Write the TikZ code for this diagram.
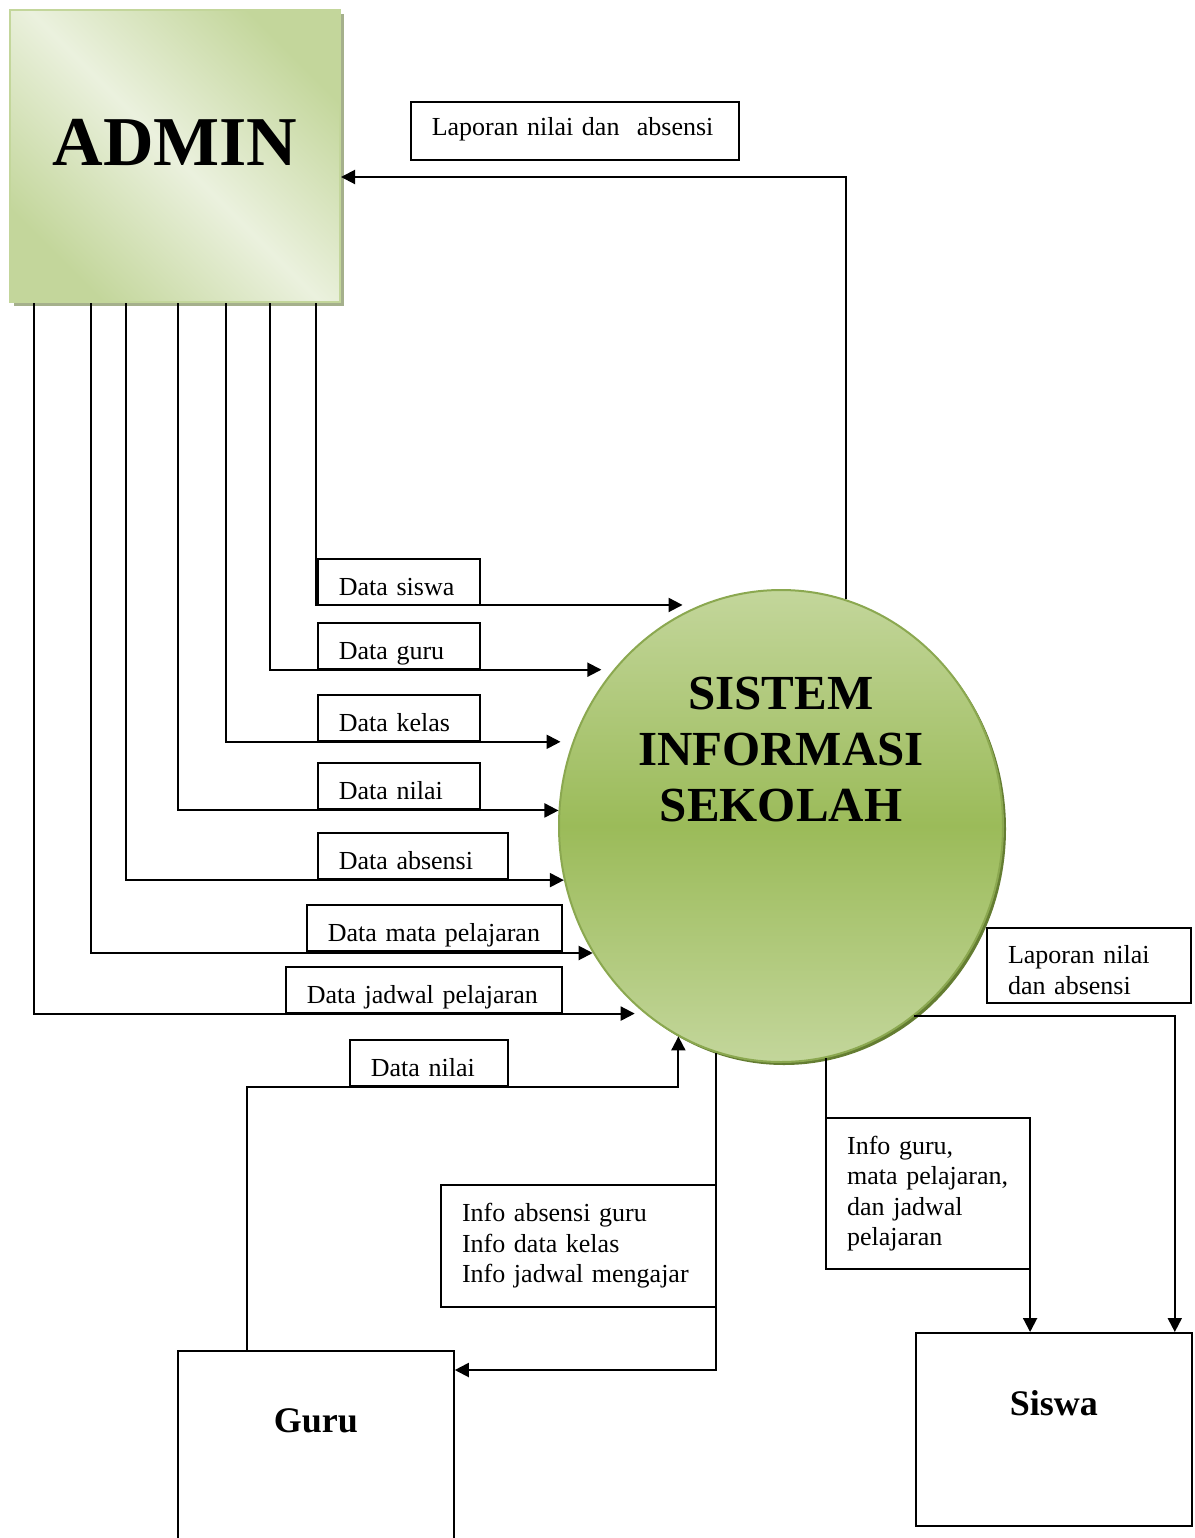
\documentclass[tikz,border=0pt]{standalone}
\usepackage{fontspec}
\setmainfont{Liberation Serif}
\usepackage{tikz}
\usetikzlibrary{arrows.meta,shapes.geometric,shadows}
\definecolor{olv}{RGB}{155,187,89}
\definecolor{olvlite}{RGB}{195,214,155}
\definecolor{olvpale}{RGB}{235,241,222}
\definecolor{olvdark}{RGB}{100,125,50}
\definecolor{shadowgr}{RGB}{165,176,140}

\begin{document}
\begin{tikzpicture}[x=0.5pt,y=-0.5pt,font=\fontsize{13}{15.25}\selectfont,
  adm/.style={draw=olvlite,line width=1pt,inner sep=0pt,minimum width=165pt,minimum height=146pt,
    top color=olvlite,bottom color=olvlite,middle color=olvpale,shading angle=-45,
    drop shadow={shadow xshift=2pt,shadow yshift=-2pt,fill=shadowgr,opacity=1},
    font=\fontsize{35}{40}\selectfont\bfseries},
  proc/.style={ellipse,draw=olv!90!black,line width=1pt,minimum width=222pt,minimum height=236pt,inner sep=0pt,
    top color=olvlite,bottom color=olvlite,middle color=olv,
    drop shadow={shadow xshift=1.5pt,shadow yshift=-1.5pt,fill=olvdark,opacity=1}},
  ent/.style={draw=black,line width=0.9pt,fill=white,inner sep=0pt,minimum width=138pt,anchor=north west,
    font=\fontsize{18}{20}\selectfont\bfseries},
  lbl/.style={draw=black,line width=0.8pt,fill=white,anchor=south west,inner xsep=10.5pt,inner ysep=0pt,
    text width=#1,align=left,text height=18pt,text depth=5pt},
  mbox/.style={draw=black,line width=0.8pt,fill=white,inner xsep=10.5pt,inner ysep=0pt,outer sep=0pt,
    text width=#1,align=left},
  a/.style={-{Triangle[length=7pt,width=7pt]},line width=1pt}]
  \path[use as bounding box,fill=white] (0,0) rectangle (1195,1538);
  % entities and process
  \node[adm,text height=77.5pt,text depth=68.5pt] (admin) at (175,156) {ADMIN};
  \node[proc] (sis) at (781,826) {};
  \node[font=\fontsize{24.5}{28}\selectfont\bfseries,align=center] (sistxt) at (781,750) {SISTEM\\INFORMASI\\SEKOLAH};
  \node[ent,text height=41pt,text depth=64pt] (guru) at (177,1350) {Guru};
  \node[ent,text height=41.5pt,text depth=55pt] (siswa) at (915,1332) {Siswa};
  % flow labels
  \node[lbl=143pt,text height=17pt,text depth=12pt,anchor=north west] (lapadm) at (410,101) {Laporan nilai dan~ absensi};
  \node[lbl=60pt] (dsiswa) at (317,606) {Data siswa};
  \node[lbl=60pt] (dguru) at (317,670) {Data guru};
  \node[lbl=60pt] (dkelas) at (317,742) {Data kelas};
  \node[lbl=60pt] (dnilai) at (317,810) {Data nilai};
  \node[lbl=74pt] (dabsen) at (317,880) {Data absensi};
  \node[lbl=106.5pt] (dmapel) at (306,952) {Data mata pelajaran};
  \node[lbl=117pt] (djadwal) at (285,1014) {Data jadwal pelajaran};
  \node[lbl=58pt] (gnilai) at (349,1087) {Data nilai};
  \node[mbox=116.5pt,anchor=north east,minimum height=61pt] (infoguru) at (sis.254.2 |- 0,1185) {Info absensi guru\\Info data kelas\\Info jadwal mengajar};
  \node[mbox=81pt,anchor=north west,minimum height=75.5pt] (infosiswa) at (sis.281.2 |- 0,1118) {Info guru,\\mata pelajaran,\\dan jadwal\\pelajaran};
  \node[mbox=81pt,anchor=north west,minimum height=37.5pt] (lapsiswa) at (987,928) {\rule{0pt}{13.75pt}Laporan nilai\\dan absensi};
  % flows
  \draw[a,shorten >=9pt] ([xshift=153.5pt]admin.south west) |- (sis.110.7);
  \draw[a,shorten >=6pt] ([xshift=130.5pt]admin.south west) |- (sis.137.2);
  \draw[a,shorten >=6pt] ([xshift=108.5pt]admin.south west) |- (sis.158.2);
  \draw[a] ([xshift=84.5pt]admin.south west) |- (sis.176.1);
  \draw[a] ([xshift=58.5pt]admin.south west) |- (sis.194.3);
  \draw[a] ([xshift=41pt]admin.south west) |- (sis.214.2);
  \draw[a,shorten >=5pt] ([xshift=12.5pt]admin.south west) |- (sis.234.9);
  \draw[a] (sis.74.2) |- ([yshift=-10.5pt]admin.east);
  \draw[a] ([xshift=35pt]guru.north west) |- (gnilai.south east) -| (sis.244.05);
  \draw[a] (sis.254.2) |- ([yshift=-10pt]guru.north east);
  \draw[a] (sis.281.2) |- (infosiswa.south east) -- (infosiswa.south east |- siswa.north);
  \draw[a] (sis.305.1) -| ([xshift=-9pt]siswa.north east);
\end{tikzpicture}
\end{document}
